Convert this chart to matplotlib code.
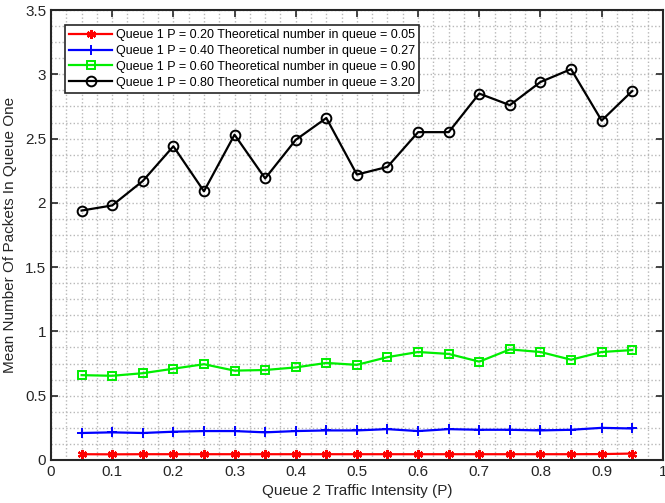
import matplotlib.pyplot as plt
import numpy as np

plt.rcParams['font.family'] = ['Liberation Sans', 'DejaVu Sans']

x = [0.05, 0.10, 0.15, 0.20, 0.25, 0.30, 0.35, 0.40, 0.45, 0.50,
     0.55, 0.60, 0.65, 0.70, 0.75, 0.80, 0.85, 0.90, 0.95]

q_p20 = [0.045, 0.044, 0.045, 0.045, 0.045, 0.045, 0.045, 0.045, 0.045, 0.045,
         0.045, 0.045, 0.045, 0.045, 0.045, 0.045, 0.045, 0.046, 0.05]
q_p40 = [0.21, 0.215, 0.21, 0.22, 0.225, 0.225, 0.215, 0.225, 0.23, 0.23,
         0.24, 0.225, 0.24, 0.235, 0.235, 0.23, 0.235, 0.25, 0.245]
q_p60 = [0.66, 0.655, 0.675, 0.71, 0.745, 0.695, 0.70, 0.72, 0.755, 0.74,
         0.80, 0.84, 0.825, 0.765, 0.86, 0.84, 0.78, 0.84, 0.855]
q_p80 = [1.94, 1.98, 2.17, 2.44, 2.09, 2.53, 2.19, 2.49, 2.66, 2.22,
         2.28, 2.55, 2.55, 2.85, 2.76, 2.94, 3.04, 2.64, 2.87]

labels = ["Queue 1 P = 0.20 Theoretical number in queue = 0.05",
          "Queue 1 P = 0.40 Theoretical number in queue = 0.27",
          "Queue 1 P = 0.60 Theoretical number in queue = 0.90",
          "Queue 1 P = 0.80 Theoretical number in queue = 3.20"]

fig = plt.figure(figsize=(6.65, 5.03), dpi=100)
ax = fig.add_axes([0.0767, 0.0855, 0.920, 0.8946])

ax.plot(x, q_p20, color='red', lw=1.6, marker=(6, 2, 0), ms=6.5, mew=1.6, label=labels[0])
ax.plot(x, q_p40, color='blue', lw=1.6, marker='+', ms=7, mew=1.4, label=labels[1])
ax.plot(x, q_p60, color='#00ee00', lw=1.6, marker='s', ms=5.5, mfc='none', mew=1.4, label=labels[2])
ax.plot(x, q_p80, color='black', lw=1.6, marker='o', ms=7, mfc='none', mew=1.4, label=labels[3])

ax.set_xlim(0, 1)
ax.set_ylim(0, 3.5)
ax.set_xticks(np.arange(0, 1.01, 0.1))
ax.set_xticklabels(['0', '0.1', '0.2', '0.3', '0.4', '0.5', '0.6', '0.7', '0.8', '0.9', '1'])
ax.set_yticks(np.arange(0, 3.51, 0.5))
ax.set_yticklabels(['0', '0.5', '1', '1.5', '2', '2.5', '3', '3.5'])
ax.set_xticks(np.arange(0, 1.001, 0.025), minor=True)
ax.set_yticks(np.arange(0, 3.501, 0.125), minor=True)
ax.tick_params(which='both', direction='in', top=True, right=True, labelsize=11, colors='#262626')
ax.tick_params(which='major', length=5, width=1.2)
ax.tick_params(which='minor', length=0)
ax.grid(which='both', color='#b8b8b8', linestyle=':', linewidth=1)
for s in ax.spines.values():
    s.set_linewidth(1.5)
    s.set_color('#262626')

ax.set_xlabel("Queue 2 Traffic Intensity (P)", fontsize=11, color='#262626')
ax.set_ylabel("Mean Number Of Packets In Queue One", fontsize=11, color='#262626', labelpad=6)

leg = ax.legend(loc='upper left', bbox_to_anchor=(0.0229, 0.9667), borderaxespad=0,
                fontsize=9, frameon=True, fancybox=False, framealpha=1,
                edgecolor='#262626', handlelength=3.4, borderpad=0.35,
                labelspacing=0.3, handletextpad=0.3)
leg.get_frame().set_linewidth(1.2)

plt.savefig('out.png')
